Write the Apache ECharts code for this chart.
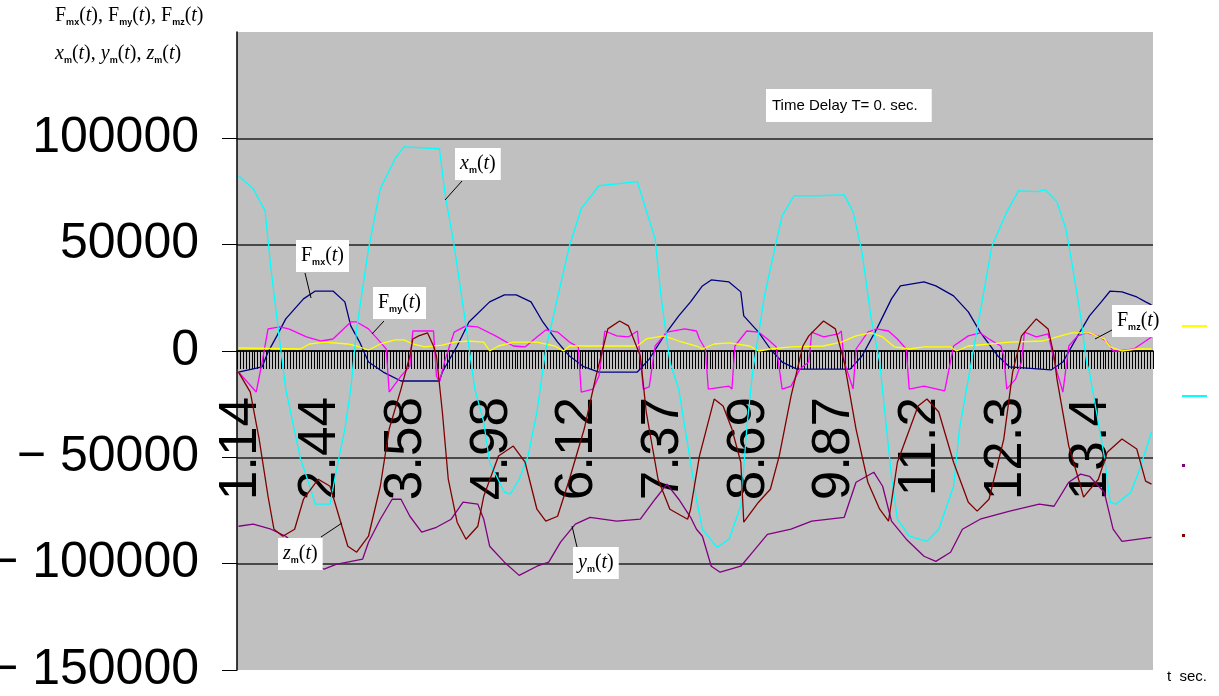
<!DOCTYPE html>
<html>
<head>
<meta charset="utf-8">
<script src="https://cdn.jsdelivr.net/npm/echarts@6.0.0/dist/echarts.min.js"></script>
<style>
  html, body { margin: 0; padding: 0; background: #fff; }
  #main { width: 1219px; height: 696px; }
</style>
</head>
<body>
<div id="main"></div>
<script>
// time labels, one shown every labelStep samples
var tickLabels = ['1.14', '2.44', '3.58', '4.98', '6.12', '7.37', '8.69', '9.87', '11.2', '12.3', '13.4'];
var sampleCount = 310;
var labelStep = 29;

// [sample index, value]
var fmx = [[0,-9900],[8,-7500],[10,-500],[13,7100],[16,15100],[22,24500],[26,28200],[32,28200],[36,23100],[38,11800],[41,4200],[44,-5200],[49,-9900],[55,-14100],[68,-14100],[69,-9900],[74,2350],[78,13650],[85,23100],[90,26400],[94,26400],[99,23100],[103,13650],[108,4200],[112,-2350],[117,-7500],[122,-9900],[135,-9900],[139,-3800],[144,7100],[149,16500],[153,23100],[157,30600],[160,33400],[166,32500],[170,27800],[171,16500],[176,8900],[180,940],[184,-5200],[189,-8500],[207,-8500],[211,-2350],[216,10400],[221,24500],[224,30600],[232,32500],[236,30600],[242,25900],[247,18400],[251,8900],[257,-2350],[261,-7500],[275,-8900],[279,-5200],[284,7100],[288,16500],[292,23100],[295,28200],[299,27800],[304,25400],[307,23100],[309,21700]];

var fmy = [[0,-9900],[6,-19300],[8,-5200],[10,10400],[14,11300],[17,10400],[23,6600],[28,4700],[32,5650],[38,13650],[40,13650],[44,10400],[48,4200],[50,940],[51,-19300],[55,-11800],[58,-7100],[59,9400],[66,9400],[67,-11800],[68,-14600],[70,-3800],[73,8900],[77,11800],[81,11300],[87,7100],[93,2350],[97,1900],[101,6600],[104,9900],[108,8900],[112,4200],[115,1900],[116,-19300],[120,-17900],[122,-11800],[124,9400],[128,7100],[132,6600],[135,9400],[136,-3800],[137,-17900],[139,-16900],[141,2350],[145,8900],[151,10400],[155,9400],[156,5650],[158,940],[159,-17900],[166,-16500],[167,-17900],[168,2350],[172,9400],[176,8900],[179,5650],[182,1900],[184,-17900],[187,-16500],[190,-8500],[193,-5200],[194,8900],[198,6600],[203,8000],[204,9400],[205,-5200],[208,-17900],[209,940],[213,8900],[216,10400],[220,9400],[223,5650],[226,940],[227,-17900],[232,-16500],[239,-18800],[242,2350],[247,7100],[251,8500],[254,5650],[258,2350],[259,-2350],[260,-17900],[263,-13200],[265,-5200],[266,8900],[270,6600],[274,8000],[277,-9900],[279,-19300],[281,2350],[284,7100],[287,8500],[291,7100],[294,4200],[296,0],[298,0],[303,940],[309,6600]];

var fmz = [[0,1400],[21,940],[24,3300],[29,4200],[37,3300],[40,2350],[44,470],[48,3300],[53,5200],[56,5200],[59,3300],[63,1900],[69,2800],[73,4200],[78,4700],[83,4200],[85,0],[88,2350],[93,4200],[101,4200],[107,2350],[110,0],[112,2350],[124,2350],[135,2350],[138,5650],[144,7100],[149,4700],[155,2350],[157,940],[161,3300],[166,3800],[173,2350],[176,0],[180,940],[187,1900],[198,2350],[204,4200],[209,7100],[214,8500],[218,6600],[222,1900],[227,940],[232,1900],[241,1900],[243,0],[247,2350],[261,4200],[272,4700],[277,6600],[282,8500],[288,8500],[293,5650],[295,1900],[299,0],[304,940],[309,940]];

var xm = [[0,82400],[5,76300],[9,65900],[11,38600],[14,4200],[16,-17900],[21,-50800],[23,-58900],[26,-72000],[31,-72000],[33,-57000],[36,-36700],[38,-17900],[40,10400],[44,48000],[48,76300],[53,90400],[56,96000],[68,95100],[70,73000],[73,49400],[77,11800],[80,-17900],[83,-33400],[85,-52300],[90,-66400],[92,-67300],[95,-60300],[98,-49400],[101,-28700],[104,900],[112,49400],[116,66900],[122,77700],[135,79600],[141,52700],[143,25900],[146,-5200],[149,-17900],[155,-69700],[157,-83800],[162,-92300],[166,-88500],[170,-73000],[172,-36700],[174,-9900],[178,25900],[182,51300],[184,63600],[188,73000],[196,73000],[205,73400],[208,65400],[211,46600],[214,16500],[217,-5200],[221,-58900],[223,-79100],[227,-87100],[233,-89500],[237,-83800],[242,-63600],[244,-36700],[248,-5200],[250,10400],[255,49400],[260,65400],[264,75300],[270,74900],[273,75800],[277,70100],[280,57400],[282,41900],[285,16500],[287,-5200],[288,-9900],[293,-49400],[295,-71100],[297,-72000],[302,-66400],[305,-55600],[309,-38100]];

var ym = [[0,-82400],[5,-81400],[11,-83800],[16,-87100],[21,-93000],[26,-100300],[29,-102600],[33,-100300],[42,-97900],[44,-89900],[48,-79100],[52,-69700],[55,-69700],[58,-77700],[62,-85200],[67,-82900],[72,-79100],[76,-71100],[81,-72000],[83,-79100],[85,-91800],[90,-99300],[95,-105500],[101,-101200],[105,-99300],[109,-89900],[114,-81400],[119,-78200],[128,-80000],[136,-79100],[141,-69700],[145,-62600],[149,-69700],[153,-78200],[155,-83800],[157,-87100],[160,-101200],[163,-104000],[170,-101200],[174,-94600],[179,-86200],[187,-83800],[194,-80000],[205,-78200],[209,-61700],[215,-57000],[218,-63600],[221,-80000],[226,-88500],[232,-96500],[236,-98900],[241,-94600],[245,-83800],[251,-79100],[261,-75300],[271,-72000],[276,-73000],[281,-61700],[285,-57900],[288,-58900],[293,-66400],[296,-83800],[299,-89500],[309,-87600]];

var zm = [[0,-9900],[4,-19300],[7,-41400],[10,-68300],[12,-83800],[15,-87100],[19,-83800],[22,-69700],[27,-60300],[31,-63600],[34,-77700],[37,-91800],[40,-94600],[44,-87100],[48,-63600],[51,-36700],[55,-17900],[58,-2350],[59,5650],[61,7100],[64,8500],[66,2350],[67,-2350],[69,-28700],[71,-60300],[74,-80500],[77,-88500],[81,-82400],[83,-68300],[88,-49400],[93,-44700],[97,-52300],[101,-74400],[104,-80000],[108,-77700],[112,-60300],[117,-36700],[121,-11800],[125,10400],[129,14100],[132,11800],[136,-2350],[138,-28700],[142,-60300],[146,-74400],[152,-79100],[153,-74400],[156,-49400],[161,-22600],[164,-25900],[167,-36700],[170,-52300],[171,-80500],[176,-71100],[180,-65000],[183,-49400],[187,-21200],[191,2350],[193,7100],[198,14100],[202,10400],[205,-5200],[209,-36700],[213,-61700],[217,-74400],[220,-80000],[223,-52300],[230,-25900],[233,-22600],[237,-28700],[242,-52300],[247,-71100],[250,-75300],[254,-69700],[259,-41400],[262,-9900],[265,7100],[270,15100],[274,10400],[276,-2350],[277,-13200],[281,-44700],[285,-63600],[286,-68700],[291,-60300],[294,-47600],[299,-41400],[304,-46100],[307,-61200],[309,-62600]];

var categories = [];
for (var i = 0; i < sampleCount; i++) {
  categories.push(i % labelStep === 0 ? tickLabels[i / labelStep] : '');
}

var dom = document.getElementById('main');
var myChart = echarts.init(dom, null, { renderer: 'canvas' });

var rich = {
  n: { fontFamily: 'Liberation Serif', fontSize: 20, lineHeight: 22, color: '#000' },
  i: { fontFamily: 'Liberation Serif', fontSize: 20, fontStyle: 'italic', lineHeight: 22, color: '#000' },
  s: { fontFamily: 'Liberation Sans', fontSize: 9, fontWeight: 'bold', lineHeight: 8, verticalAlign: 'bottom', color: '#000' }
};

function tag(x, y, text) {
  return {
    type: 'text', left: x, top: y, z: 100,
    style: { text: text, rich: rich, backgroundColor: '#fff', padding: [5, 5, 5, 5] }
  };
}
function leader(x1, y1, x2, y2) {
  return {
    type: 'line', z: 100,
    shape: { x1: x1, y1: y1, x2: x2, y2: y2 },
    style: { stroke: '#000', lineWidth: 1 }
  };
}
function key(name, y, w, h) {
  return {
    data: [name], left: 1182, top: y, orient: 'vertical', icon: 'rect',
    itemWidth: w, itemHeight: h, padding: 0, selectedMode: false,
    formatter: function () { return ''; },
    textStyle: { fontSize: 2 }
  };
}

var option = {
  animation: false,
  backgroundColor: '#fff',
  grid: {
    left: 237, right: 66, top: 32, bottom: 26,
    show: true, backgroundColor: '#C0C0C0', borderWidth: 0,
    outerBoundsMode: 'none'
  },
  legend: [
    key('Fmz', 325, 25, 2),
    key('xm', 395, 25, 2),
    key('ym', 464, 3, 3),
    key('zm', 534, 3, 3)
  ],
  xAxis: {
    type: 'category',
    data: categories,
    boundaryGap: true,
    axisLine: { onZero: true, lineStyle: { color: '#000', width: 1.5 } },
    axisTick: { show: true, interval: 0, length: 18, lineStyle: { color: '#000', width: 1 } },
    // labels sit at the grid bottom, so pull them up under the zero line
    axisLabel: {
      interval: labelStep - 1, rotate: 90, margin: -273, padding: [0, 0, 7, 0],
      fontFamily: 'Liberation Sans', fontSize: 53, color: '#000',
      formatter: function (value, index) {
        return index === 0 ? '{first|' + value + '}' : value;
      },
      rich: {
        first: { fontFamily: 'Liberation Sans', fontSize: 53, color: '#000', padding: [12, 0, 0, 0] }
      }
    },
    splitLine: { show: false }
  },
  yAxis: {
    type: 'value',
    min: -150000, max: 150000, interval: 50000,
    axisLine: { show: true, lineStyle: { color: '#000', width: 1.5 } },
    axisTick: { show: true, length: 15, lineStyle: { color: '#000' } },
    axisLabel: {
      showMaxLabel: false, margin: 38,
      fontFamily: 'Liberation Sans', fontSize: 50, color: '#000',
      formatter: function (v) { return String(v).replace('-', '\u2212 '); }
    },
    splitLine: { show: true, showMinLine: false, showMaxLine: false, lineStyle: { color: '#222', width: 1.5 } }
  },
  series: [
    { name: 'Fmx', type: 'line', data: fmx, showSymbol: false, color: '#000080', lineStyle: { width: 1.3 } },
    { name: 'Fmy', type: 'line', data: fmy, showSymbol: false, color: '#FF00FF', lineStyle: { width: 1.3 } },
    { name: 'Fmz', type: 'line', data: fmz, showSymbol: false, color: '#FFFF00', lineStyle: { width: 1.3 } },
    { name: 'xm', type: 'line', data: xm, showSymbol: false, color: '#00FFFF', lineStyle: { width: 1.3 } },
    { name: 'ym', type: 'line', data: ym, showSymbol: false, color: '#800080', lineStyle: { width: 1.3 } },
    { name: 'zm', type: 'line', data: zm, showSymbol: false, color: '#800000', lineStyle: { width: 1.3 } }
  ],
  graphic: [
    {
      type: 'text', left: 55, top: 6,
      style: { text: '{n|F}{s|mx}{n|(}{i|t}{n|), F}{s|my}{n|(}{i|t}{n|), F}{s|mz}{n|(}{i|t}{n|)}', rich: rich }
    },
    {
      type: 'text', left: 55, top: 44,
      style: { text: '{i|x}{s|m}{n|(}{i|t}{n|), }{i|y}{s|m}{n|(}{i|t}{n|), }{i|z}{s|m}{n|(}{i|t}{n|)}', rich: rich }
    },
    {
      type: 'text', left: 766, top: 89, z: 100,
      style: {
        text: 'Time Delay T= 0. sec.', fontFamily: 'Liberation Sans', fontSize: 15, fill: '#000',
        backgroundColor: '#fff', padding: [9, 14, 9, 6]
      }
    },
    {
      type: 'text', left: 1167, top: 669,
      style: { text: 't  sec.', fontFamily: 'Liberation Sans', fontSize: 15, fill: '#000' }
    },
    leader(462, 181, 445, 200),
    tag(455, 148, '{i|x}{s|m}{n|(}{i|t}{n|)}'),
    leader(305, 273, 311, 298),
    tag(296, 240, '{n|F}{s|mx}{n|(}{i|t}{n|)}'),
    leader(384, 321, 372, 334),
    tag(373, 287, '{n|F}{s|my}{n|(}{i|t}{n|)}'),
    leader(1112, 330, 1095, 339),
    tag(1112, 305, '{n|F}{s|mz}{n|(}{i|t}{n|)}'),
    leader(321, 537, 342, 523),
    tag(278, 538, '{i|z}{s|m}{n|(}{i|t}{n|)}'),
    leader(577, 547, 572, 526),
    tag(573, 547, '{i|y}{s|m}{n|(}{i|t}{n|)}')
  ]
};

if (option && typeof option === 'object') {
  myChart.setOption(option);
}
</script>
</body>
</html>
